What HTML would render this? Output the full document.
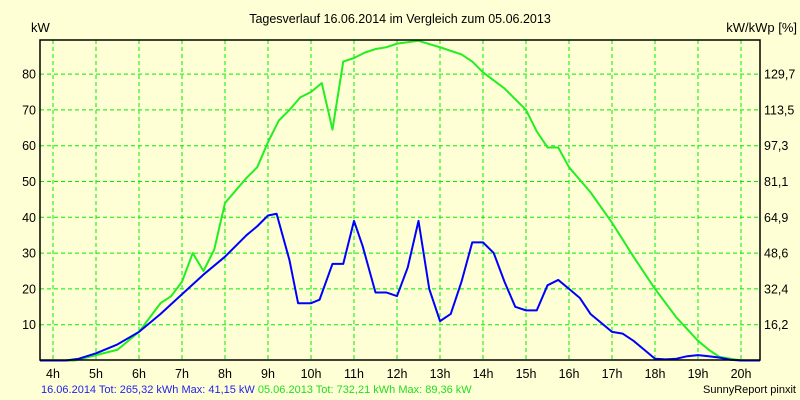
<!DOCTYPE html>
<html><head><meta charset="utf-8"><style>
body{margin:0;background:#ffffd5;}
svg{display:block;font-family:"Liberation Sans",sans-serif;}
</style></head><body>
<svg id="chart" width="800" height="400" viewBox="0 0 800 400">
<rect width="800" height="400" fill="#ffffd5"/>
<text x="400" y="23" font-size="12.5" text-anchor="middle" fill="#000">Tagesverlauf 16.06.2014 im Vergleich zum 05.06.2013</text>
<text x="31" y="32" font-size="13" fill="#000">kW</text>
<text x="797" y="32" font-size="13" text-anchor="end" fill="#000">kW/kWp [%]</text>
<g id="grid"></g><g id="series"></g><g id="labels"></g>
<rect x="40" y="40" width="720" height="320" fill="none" stroke="#000" stroke-width="1.5"/>
<text x="41" y="393" font-size="11"><tspan fill="#2222ee">16.06.2014 Tot: 265,32 kWh Max: 41,15 kW </tspan><tspan fill="#22dd22">05.06.2013 Tot: 732,21 kWh Max: 89,36 kW</tspan></text>
<text x="796" y="393" font-size="11" text-anchor="end" fill="#000">SunnyReport pinxit</text>
</svg>
<script>
const hourTicks=[4,5,6,7,8,9,10,11,12,13,14,15,16,17,18,19,20];
const kwTicks=[10,20,30,40,50,60,70,80];
const pctLabels=["16,2","32,4","48,6","64,9","81,1","97,3","113,5","129,7"];
const blueTimes=[3.7,4.3,4.6,5,5.5,6,6.5,7,7.5,8,8.5,8.75,9,9.2,9.5,9.7,10,10.2,10.5,10.75,11,11.2,11.5,11.75,12,12.25,12.5,12.75,13,13.25,13.5,13.75,14,14.25,14.5,14.75,15,15.25,15.5,15.75,16,16.25,16.5,16.75,17,17.25,17.5,17.75,18,18.25,18.5,18.75,19,19.25,19.5,19.75,20,20.44];
const blueValues=[0,0,0.5,2,4.5,8,13,18.5,24,29,35,37.5,40.5,41,28,16,16,17,27,27,39,32,19,19,18,26,39,20,11,13,22,33,33,30,22,15,14,14,21,22.5,20,17.5,13,10.5,8,7.5,5.5,3,0.5,0.3,0.5,1.2,1.5,1.2,0.8,0.2,0,0];
const greenTimes=[3.7,4.5,5,5.5,6,6.5,6.75,7,7.25,7.5,7.75,8,8.5,8.75,9,9.25,9.5,9.75,10,10.25,10.5,10.75,11,11.25,11.5,11.75,12,12.5,13,13.5,13.75,14,14.5,15,15.25,15.5,15.75,16,16.5,17,17.5,18,18.5,19,19.25,19.5,20,20.44];
const greenValues=[0,0,1.5,3,8,16,18,22,30,25,31,44,51,54,61,67,70,73.5,75,77.5,64.5,83.5,84.5,86,87,87.5,88.5,89.3,87.5,85.5,83.5,80.5,76,70,64,59.5,59.5,54,47,38.5,29,20,12,5.5,3,1,0,0];
const NS="http://www.w3.org/2000/svg";
const xs=h=>53+(h-4)*43;
const ys=v=>360.5-v*3.58;
function mk(tag,attrs,parent){const e=document.createElementNS(NS,tag);for(const k in attrs)e.setAttribute(k,attrs[k]);parent.appendChild(e);return e;}
const grid=document.getElementById('grid'),labels=document.getElementById('labels'),series=document.getElementById('series');
hourTicks.forEach(h=>{
 const l=mk('line',{x1:xs(h),x2:xs(h),y1:40,y2:360,stroke:'#00ee00','stroke-dasharray':'4,3'},grid);
 
 
 const t=mk('text',{x:xs(h),y:378,'font-size':12.5,'text-anchor':'middle',fill:'#000'},labels);t.textContent=h+'h';
 
 
});
kwTicks.forEach((v,i)=>{
 const l=mk('line',{x1:40,x2:760,y1:ys(v),y2:ys(v),stroke:'#00ee00','stroke-dasharray':'4,3'},grid);
 
 
 const t=mk('text',{x:36,y:ys(v)+4.5,'font-size':12.5,'text-anchor':'end',fill:'#000'},labels);t.textContent=v;
 
 
 const r=mk('text',{x:764,y:ys(v)+4.5,'font-size':12.5,fill:'#000'},labels);r.textContent=pctLabels[i];
 
 
});
function line(ts,vs,color,name){
 const p=mk('polyline',{points:ts.map((t,i)=>xs(t)+','+ys(vs[i])).join(' '),fill:'none',stroke:color,'stroke-width':2,'stroke-linejoin':'round'},series);
 
 
}
line(greenTimes,greenValues,'#22ee22','series-2013-line');
line(blueTimes,blueValues,'#0000ff','series-2014-line');
</script>
</body></html>
